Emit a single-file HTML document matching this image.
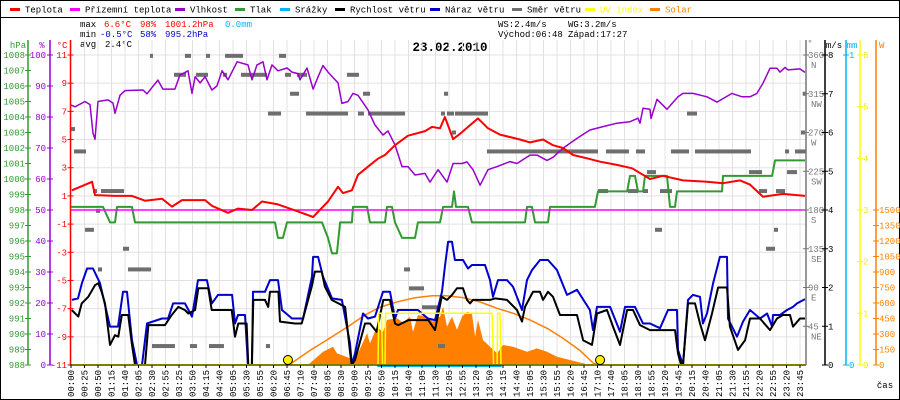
<!DOCTYPE html>
<html><head><meta charset="utf-8">
<style>
html,body{margin:0;padding:0;background:#fff;}
svg{display:block;}
text{font-family:"Liberation Mono",monospace;}
</style></head>
<body>
<svg id="chart" width="900" height="400" viewBox="0 0 900 400" xmlns="http://www.w3.org/2000/svg">
<rect x="0.5" y="0.5" width="899" height="399" fill="#fff" stroke="#000"/>
<line x1="0" y1="17.5" x2="900" y2="17.5" stroke="#000"/>
<g id="legend"></g>
<g font-size="9">
<text x="80" y="27" fill="#000">max</text>
<text x="104" y="27" fill="#f00">6.6°C</text>
<text x="140" y="27" fill="#f00">98%</text>
<text x="165" y="27" fill="#f00">1001.2hPa</text>
<text x="225" y="27" fill="#00b4ff">0.0mm</text>
<text x="80" y="37" fill="#000">min</text>
<text x="100" y="37" fill="#00c">-0.5°C</text>
<text x="140" y="37" fill="#00c">58%</text>
<text x="165" y="37" fill="#00c">995.2hPa</text>
<text x="80" y="47" fill="#000">avg</text>
<text x="105" y="47" fill="#000">2.4°C</text>
<text x="498" y="27" fill="#000">WS:2.4m/s</text>
<text x="568" y="27" fill="#000">WG:3.2m/s</text>
<text x="498" y="37" fill="#000">Východ:06:48</text>
<text x="568" y="37" fill="#000">Západ:17:27</text>
</g>
<text x="450" y="51" text-anchor="middle" font-size="12.5" font-weight="bold" fill="#000">23.02.2010</text>
<g id="plot"></g>
<g id="axes"></g>
</svg>
<script>
const timeLabels=["00:00","00:25","00:50","01:15","01:40","02:05","02:30","02:55","03:25","03:50","04:15","04:40","05:05","05:30","05:55","06:20","06:45","07:10","07:40","08:05","08:30","09:00","09:25","09:50","10:15","10:40","11:05","11:30","12:05","12:55","13:20","13:50","14:15","14:40","15:05","15:30","15:55","16:20","16:45","17:10","17:40","18:05","18:30","18:55","19:20","19:45","20:15","20:40","21:05","21:30","21:55","22:20","22:55","23:20","23:45"];
const hpaTicks=[1008,1007,1006,1005,1004,1003,1002,1001,1000,999,998,997,996,995,994,993,992,991,990,989,988];
const pctTicks=[100,90,80,70,60,50,40,30,20,10,0];
const tempTicks=[11,9,7,5,3,1,-1,-3,-5,-7,-9,-11];
const dirTicks=[360,315,270,225,180,135,90,45];
const dirNames=["N","NW","W","SW","S","SE","E","NE"];
const wsTicks=[8,7,6,5,4,3,2,1,0];
const uvTicks=[6,5,4,3,2,1,0];
const solarTicks=[1500,1350,1200,1050,900,750,600,450,300,150,0];

const tempT=[0.07,1.56,1.78,3.26,4.52,5.48,6.74,7.48,8.22,9.93,10.44,11.63,12.37,13.41,14.15,15.33,16.81,17.93,19.04,19.78,20.15,20.81,21.26,22.0,22.74,23.26,24.0,24.96,26.22,26.74,27.33,27.7,28.3,28.81,30.15,30.89,31.78,33.26,34.0,34.96,35.7,36.44,37.19,38.22,39.19,40.44,41.56,42.37,42.89,43.85,45.33,47.11,48.3,49.56,50.3,51.26,52.74,54.37];
const tempV=[1.4,2.0,1.06,1.0,1.0,0.66,0.8,0.24,0.7,0.7,0.3,-0.2,0.1,0.0,0.6,0.4,-0.1,-0.5,0.6,1.65,1.2,1.4,2.5,3.07,3.65,3.9,4.6,5.27,5.6,5.9,5.8,6.6,5.03,5.4,6.5,5.8,5.35,5.0,4.8,5.0,4.6,4.4,3.9,3.67,3.43,3.2,2.96,2.5,2.2,2.43,2.1,2.0,1.9,2.1,1.8,0.94,1.14,1.0];

const dewT=[0,54.44];
const dewV=[0,0];

const humT=[0,0.3,1.04,1.41,1.63,1.78,2,2.74,3.11,3.26,3.63,4,5.33,5.63,6.44,6.81,7.7,8.07,8.67,8.96,9.19,9.56,9.93,10.44,10.81,11.19,11.63,12.3,13.11,13.41,13.78,14.22,14.52,14.89,15.33,16,16.37,16.81,16.96,17.48,17.93,18.3,18.67,19.04,19.78,20.07,20.52,20.89,21.26,22,22.52,23.11,23.48,24,24.52,24.96,25.48,26.22,26.59,27.19,27.85,28.3,28.96,29.33,29.78,30.3,30.89,31.56,32.52,33.04,34,34.52,35.26,35.7,36.44,37.48,38.44,39.41,40.44,41.41,42,42.15,42.37,42.89,42.96,43.41,44.15,44.96,45.33,46.07,47.11,47.85,48.96,49.7,50.3,50.81,51.26,51.78,52.3,52.52,52.89,53.11,54,54.37];
const humV=[83.9,83.3,85,84,74.8,72.8,85,85.5,84.5,81.2,87,88.5,88.7,87.5,91.9,89,89,93.5,94.9,87.6,93,91,93,88.7,90,94.9,92,97.8,96.8,92,96.8,97.8,92,96.8,94.9,95.8,94.5,94,92,95.8,89,93,96.6,94.5,91,84.4,85,87.6,87,82.3,77.4,74.2,75.5,71,64,64,61.3,61.8,59,63,59,65,65,65.5,63,58,63,64,65.6,65,67.7,67.7,66,67,69.9,73.1,75.8,76.9,78,78.5,79.6,78,82.8,82.5,79.5,85.7,82.5,86.5,87.6,87.6,86.5,84.8,87.6,86.5,86.5,87.6,90.9,95.7,95.7,94.5,96,95.2,95.5,94.4];

const presT=[0,2.37,2.89,3.26,3.41,4.52,4.74,15.11,15.33,15.7,16,18.59,19.04,19.33,19.7,19.93,20.81,20.89,21.93,22.15,23.26,23.41,23.78,24,24.52,25.48,25.7,27.33,27.56,28.22,28.37,28.52,29.41,29.7,33.63,33.78,34.15,34.37,35.33,35.48,38.81,39.04,41.19,41.41,41.78,42,42.37,42.52,44.15,44.37,44.74,44.89,48.22,48.3,51.93,52.15,54.37];
const presV=[998.2,998.2,997.2,997.2,998.2,998.2,997.2,997.2,996.2,996.2,997.2,997.2,996.2,995.2,995.2,997.2,997.2,998.2,998.2,997.2,997.2,998.2,998.2,997.2,996.2,996.2,997.2,997.2,998.2,998.2,999.2,998.2,998.2,997.2,997.2,998.2,998.2,997.2,997.2,998.2,998.2,999.2,999.2,1000.2,1000.2,999.2,999.2,1000.2,1000.2,998.2,998.2,999.2,999.2,1000.2,1000.2,1001.2,1001.2];

const windT=[0.05,0.54,0.79,1.28,1.78,2.02,2.27,2.52,2.89,3.26,3.5,3.76,4.24,4.5,4.74,5.48,5.73,6.96,7.46,7.95,8.44,8.69,9.19,9.43,10.17,10.42,11.9,12.15,12.39,13.01,13.13,13.39,13.5,14.37,14.61,14.74,15.36,15.48,16.59,17.09,17.83,18.07,18.57,18.81,19.31,20.3,20.67,20.79,21.04,21.78,22.15,22.64,23.13,23.63,24,24.24,24.99,26.47,26.96,27.46,27.85,28.22,28.59,29.04,29.33,29.56,29.78,31.04,31.41,32.3,33.04,33.41,33.63,34.22,34.74,34.96,35.33,35.7,36.22,37.48,37.93,38.59,38.96,39.7,40.15,40.67,41.19,41.63,42.15,42.89,44.74,44.96,45.19,45.33,45.7,46.22,46.59,46.96,47.48,47.93,48.59,48.81,49.41,49.93,50.3,51.04,51.78,52.3,52.74,53.26,53.48,54,54.37];
const windV=[1.42,1.25,1.59,1.76,2.06,2.11,1.89,1.59,0.52,0.77,0.73,1.29,1.29,0.56,0,0,1.03,1.03,1.29,1.5,1.42,1.33,1.42,1.98,1.98,1.42,1.42,0.73,1.07,1.07,0,0,1.68,1.68,1.5,1.89,1.89,1.12,1.07,1.07,2.02,2.41,2.41,2.02,1.68,1.5,0.34,0,0.13,1.07,1.07,0.86,1.68,1.68,1.07,1.03,1.16,1.16,0.9,1.76,1.68,1.81,1.98,1.98,1.68,1.59,1.68,1.68,1.72,1.68,1.42,1.12,1.5,1.89,1.89,1.68,1.89,1.76,1.29,1.29,0.64,0.52,1.33,1.42,0.99,0.52,1.42,1.42,1.03,0.9,0.9,0.3,0,0,1.59,1.59,1.07,0.64,1.33,2.0,2.0,0.99,0.39,0.64,1.2,1.2,0.9,1.2,1.29,1.29,0.99,1.2,1.2];

const gustT=[0.07,0.52,0.81,1.19,1.63,2.15,2.89,3.48,3.85,4.15,4.52,4.89,5.26,5.63,6.74,7.19,7.56,8.44,8.96,9.41,10.07,10.44,10.89,11.93,12.15,12.37,12.89,13.11,13.41,13.48,14.37,14.74,15.33,15.63,16.37,17.19,17.85,17.93,18.3,18.67,19.33,20.07,20.67,20.81,21.04,21.63,22,22.52,23.11,23.63,24,24.22,25.7,26.44,26.96,27.48,27.7,27.93,28.22,28.44,29.04,29.41,29.7,30.67,31.04,31.26,31.63,32.3,32.74,33.41,33.78,34.15,34.74,35.33,36,36.74,37.48,38.44,38.67,38.96,39.93,40.67,41.04,41.78,42.37,42.89,43.63,44.22,44.89,44.96,45.33,45.7,46.07,46.59,46.81,47.11,47.56,48.07,48.59,48.67,49.33,49.78,50.3,51.04,51.56,51.93,52,52.52,53.04,53.48,53.78,54.37];
const gustV=[1.68,1.72,2.11,2.49,2.49,2.11,0.99,0.99,1.89,1.89,0.64,0,0,1.07,1.2,1.2,1.59,1.59,1.25,2.19,2.19,1.59,1.81,1.81,1.07,1.29,1.29,0,0,1.89,1.89,2.19,2.19,1.42,1.2,1.2,2.28,2.79,2.79,2.28,1.72,1.68,0.56,0,0.3,1.33,1.2,1.25,1.89,1.89,1.2,1.42,1.42,1.2,1.16,1.89,2.54,3.18,3.18,2.71,2.71,2.49,2.58,2.58,2.19,1.76,2.19,2.19,2.02,1.42,2.19,2.45,2.71,2.71,2.45,1.81,1.94,1.42,0.9,1.5,1.5,0.86,1.5,1.5,1.07,1.07,0.95,1.42,1.42,0.39,0,1.68,1.81,1.76,1.07,1.33,2.11,2.79,2.79,1.2,0.73,1.12,1.42,1.2,1.33,0.99,1.29,1.29,1.42,1.5,1.59,1.7];

const dirStart=[5.85,8.44,10,11.41,15.41, 7.63,9.26,11.26,12.59,15.85,16.74,20.44, 16.22,21.63,27.63,54.2, 14.59,17.41,21.26,22,27.41,27.85,28.44,45.63, 0,28.22,54.07, 0.22,30.81,39.63,41.85,44.44,46.22,52.89,53.63, 42.67,50.22,53.04, 1.63,2.22,39.04,41.26,42.37,43.63,50.96,52.22, 1.85, 1.04,43.26,52.07, 3.85,51.48, 2,4.22,24.67, 25.04, 26, 6,8.81,10.22,14.44,27.19];
const dirEnd=[6.07,8.89,10.3,12.74,15.93, 8.52,10.15,11.56,14.52,16.3,17.48,21.33, 16.89,22.15,27.93,54.44, 15.56,20.52,21.7,24.74,27.7,28.37,30.89,46.37, 0.3,28.52,54.37, 1.11,39.04,41.33,42.52,45.78,50.37,53.19,54.44, 43.33,51.19,53.78, 1.93,3.93,39.78,42,42.74,44.52,51.56,52.89, 2.15, 1.7,43.78,52.37, 4.3,52.15, 2.3,5.93,25.11, 26.15, 27.19, 7.7,9.33,11.33,14.74,27.7];
const dirDeg=[359,359,359,359,359, 337,337,337,337,337,337,337, 315,315,315,315, 292,292,292,292,292,292,292,292, 274,270,270, 248,248,248,248,248,248,248,248, 224,224,224, 202,202,202,202,202,202,202,202, 179, 157,157,157, 135,135, 111,111,111, 89, 67, 22,22,22,22,22];

const solarT=[0,17.5,17.7,18.67,19.41,19.7,20.67,20.89,21.26,21.93,22.15,22.67,23.11,23.41,24.15,24.59,25.11,25.33,25.7,26.37,26.81,27.33,27.56,27.85,28.22,28.59,28.96,29.33,29.7,29.93,30.15,30.52,31.04,31.56,32,32.74,33.78,34.52,35.26,36,36.96,37.93,38.44,54.44];
const solarV=[0,0,16,129,177,113,65,0,113,307,210,371,320,436,452,410,468,320,484,468,420,468,565,371,468,340,468,516,500,274,436,242,177,113,194,177,129,161,129,80,48,16,0,0];

const solarMaxT=[16.07,16.37,17.7,19.33,20.67,21.78,22.89,24.22,25.48,26.74,27.7,29.04,30.3,31.56,32.89,34,35.33,36.44,37.7,38.67,39.04];
const solarMaxV=[0,20,140,274,385,484,560,613,650,671,672,652,610,549,495,436,350,258,140,20,0];

const uvT=[0,22.74,22.8,23.0,23.08,23.26,23.3,31.19,31.3,31.56,31.6,31.78,31.85,54.44];
const uvV=[0,0,1,1,0,0,1,1,0,0,1,1,0,0];

const rainT=[22.7,31.9];
const rainV=[0,0];

const sunEventsT=[16.07,39.19];

const NS="http://www.w3.org/2000/svg";
const X0=71, XSTEP=13.5, PL=70, PR=806, PT=40, PB=365;
function xS(s){return X0+s*XSTEP;}
function yT(t){return 210-t*310/22;}
function yH(h){return 365-h*3.1;}
function yP(p){return 365-(p-988)*15.5;}
function yW(w){return 365-w*38.75;}
function yD(d){return 365-d*310/360;}
function yS(w){return 365-w*155/1500;}
function yU(u){return 365-u*310/6;}
function mk(tag,attrs,parent){const e=document.createElementNS(NS,tag);for(const k in attrs)e.setAttribute(k,attrs[k]);parent.appendChild(e);return e;}
const plot=document.getElementById('plot');
const axes=document.getElementById('axes');
const legend=document.getElementById('legend');

// legend
const legItems=[["Teplota","#ff0000",10],["Přízemní teplota","#ff00ff",70],["Vlhkost","#9900cc",175],["Tlak","#339933",235],["Srážky","#00b4ff",280],["Rychlost větru","#000000",335],["Náraz větru","#0000cc",430],["Směr větru","#6e6e6e",512],["UV index","#ffff00",585],["Solar","#ff8000",650]];
legItems.forEach(it=>{
  const g=mk('g',{},legend);
  
  
  mk('rect',{x:it[2],y:8,width:10,height:3,fill:it[1]},g);
  const t=mk('text',{x:it[2]+15,y:12.5,'font-size':9,fill:(it[1]==="#ffff00"||it[1]==="#ff8000")?it[1]:"#000"},g);
  t.textContent=it[0];
});

// grid
const grid=mk('g',{},plot);


timeLabels.forEach((l,i)=>{mk('line',{x1:xS(i),y1:PT,x2:xS(i),y2:PB,stroke:"#e4e0e0","stroke-width":1},grid);});
tempTicks.forEach(t=>{mk('line',{x1:PL,y1:yT(t),x2:PR,y2:yT(t),stroke:"#e4e0e0","stroke-width":1},grid);});

function pathD(T,V,yf){return T.map((t,i)=>(i?'L':'M')+xS(t).toFixed(1)+','+yf(V[i]).toFixed(1)).join('');}

// solar fill
const sf=mk('path',{d:pathD(solarT,solarV,yS)+'Z',fill:"#ff8000",stroke:"none"},plot);


const sm=mk('path',{d:pathD(solarMaxT,solarMaxV,yS),fill:"none",stroke:"#ff8000","stroke-width":1.5},plot);



// wind direction blocks
dirDeg.forEach((d,i)=>{
  const r=mk('rect',{x:xS(dirStart[i]),y:yD(d)-2,width:Math.max(3,xS(dirEnd[i])-xS(dirStart[i])),height:4,fill:"#6e6e6e"},plot);
  
  
});

function line(T,V,yf,color,w,name){
  const p=mk('path',{d:pathD(T,V,yf),fill:"none",stroke:color,"stroke-width":w,"stroke-linejoin":"round"},plot);
  
  
}
line(presT,presV,yP,"#339933",2,'pressure-line');
line(humT,humV,yH,"#9900cc",1.5,'humidity-line');
line(dewT,dewV,yT,"#ff00ff",1.5,'dew-point-line');
line(tempT,tempV,yT,"#ff0000",2,'temperature-line');
line(gustT,gustV,yW,"#0000cc",2,'wind-gust-line');
line(windT,windV,yW,"#000000",2,'wind-speed-line');
const uvBase=mk('line',{x1:PL,y1:PB,x2:PR,y2:PB,stroke:"#ffff00","stroke-width":2},plot);


line(uvT,uvV,yU,"#ffff00",1.5,'uv-index-line');
line(rainT,rainV,v=>366+v,"#00b4ff",2,'rain-line');
sunEventsT.forEach(t=>{
  const c=mk('circle',{cx:xS(t),cy:360,r:4.5,fill:"#ffee00",stroke:"#000","stroke-width":1},plot);
  
  
});

// axes
function axisLine(x,color,name){const l=mk('line',{x1:x,y1:PT,x2:x,y2:PB,stroke:color,"stroke-width":1.5},axes);}
function lab(x,y,txt,color,anchor,name){const t=mk('text',{x:x,y:y+3,'font-size':9,fill:color,'text-anchor':anchor},axes);t.textContent=txt;return t;}
function tick(x,y,color){mk('line',{x1:x-3,y1:y,x2:x+3,y2:y,stroke:color,"stroke-width":1},axes);}

axisLine(28,"#339933",'pressure-axis');
hpaTicks.forEach(p=>{tick(28,yP(p),"#339933");lab(25,yP(p),String(p),"#339933","end",'pressure-tick-label');});
lab(18,45,"hPa","#339933","middle",'pressure-axis-title');
axisLine(50,"#9900cc",'humidity-axis');
pctTicks.forEach(h=>{tick(50,yH(h),"#9900cc");lab(46,yH(h),String(h),"#9900cc","end",'humidity-tick-label');});
lab(42,45,"%","#9900cc","middle",'humidity-axis-title');
axisLine(70.5,"#ff0000",'temperature-axis');
tempTicks.forEach(t=>{tick(70.5,yT(t),"#ff0000");lab(67,yT(t),String(t),"#ff0000","end",'temperature-tick-label');});
lab(62,45,"°C","#ff0000","middle",'temperature-axis-title');

const xa=mk('line',{x1:PL,y1:PB,x2:PR,y2:PB,stroke:"#000","stroke-width":1},axes);


timeLabels.forEach((l,i)=>{
  const x=xS(i);
  mk('line',{x1:x,y1:PB,x2:x,y2:PB+3,stroke:"#000"},axes);
  const t=mk('text',{x:x+3,y:397,'font-size':9,fill:"#000",transform:`rotate(-90 ${x+3} 397)`},axes);
  t.textContent=l;
  
  
});
lab(885,385,"čas","#000","middle",'x-axis-title');

axisLine(806,"#777",'wind-direction-axis');
dirTicks.forEach((d,i)=>{tick(806,yD(d),"#777");lab(808,yD(d),String(d),"#777","start",'wind-direction-tick-label');lab(811,yD(d)+10,dirNames[i],"#777","start",'wind-direction-name');});
lab(810,43,"°","#777","middle",'wind-direction-axis-title');
axisLine(825,"#000",'wind-speed-axis');
wsTicks.forEach(w=>{tick(825,yW(w),"#000");lab(828,yW(w),String(w),"#000","start",'wind-speed-tick-label');});
lab(834,45,"m/s","#000","middle",'wind-speed-axis-title');
axisLine(846,"#00b4ff",'rain-axis');
[1,0].forEach(v=>{tick(846,365-v*310,"#00b4ff");lab(849,365-v*310,String(v),"#00b4ff","start",'rain-tick-label');});
lab(852,45,"mm","#00b4ff","middle",'rain-axis-title');
axisLine(860,"#ffff00",'uv-axis');
uvTicks.forEach(u=>{tick(860,yU(u),"#ffff00");lab(863,yU(u),String(u),"#eeee00","start",'uv-tick-label');});
axisLine(876,"#ff8000",'solar-axis');
solarTicks.forEach(s=>{tick(876,yS(s),"#ff8000");lab(879,yS(s),String(s),"#ff8000","start",'solar-tick-label');});
lab(879,45,"W","#ff8000","start",'solar-axis-title');
</script>
</body></html>
